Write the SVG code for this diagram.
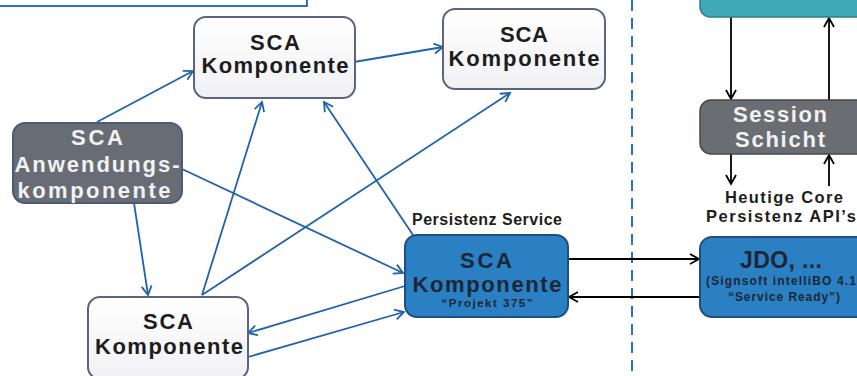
<svg xmlns="http://www.w3.org/2000/svg" width="857" height="376" viewBox="0 0 857 376">
  <style>
    .lbl { font-family: "Liberation Sans", Arial, sans-serif; font-weight: bold; text-anchor: middle; }
    .big { font-size: 22px; }
    .dark { fill: #1d1d1d; }
    .navy { fill: #1b2735; }
    .light { fill: #f2f2f2; }
    .white-box { fill: url(#wg); stroke: #5d6380; stroke-width: 2; }
    .blue-box { fill: #2a80c3; stroke: #1f4f7f; stroke-width: 2; }
    .grey-box { fill: #686d75; stroke: #4d5a78; stroke-width: 2; }
    .blink { fill: none; stroke: #1f63ad; stroke-width: 1.8; marker-end: url(#ab); }
    .klink { fill: none; stroke: #000; stroke-width: 1.8; }
    .karrow { marker-end: url(#ak); }
  </style>
  <defs>
    <linearGradient id="wg" x1="0" y1="0" x2="0" y2="1">
      <stop offset="0" stop-color="#ffffff"/>
      <stop offset="1" stop-color="#f1f1f4"/>
    </linearGradient>
    <marker id="ab" markerUnits="userSpaceOnUse" viewBox="-11 -7 13 14" markerWidth="13" markerHeight="14" refX="0" refY="0" orient="auto">
      <path d="M-9,-5 L0,0 L-9,5" fill="none" stroke="#1f63ad" stroke-width="1.8"/>
    </marker>
    <marker id="ak" markerUnits="userSpaceOnUse" viewBox="-11 -7 13 14" markerWidth="13" markerHeight="14" refX="0" refY="0" orient="auto">
      <path d="M-9,-5 L0,0 L-9,5" fill="none" stroke="#000" stroke-width="1.8"/>
    </marker>
  </defs>

  <rect width="857" height="376" fill="#ffffff"/>

  <!-- frame at top left -->
  <rect x="-5" y="-10" width="312" height="16" fill="none" stroke="#1f63ad" stroke-width="1.8"/>

  <!-- separator -->
  <line x1="632" y1="0" x2="632" y2="376" stroke="#2a6fc0" stroke-width="2" stroke-dasharray="11 7"/>

  <g id="connectors">
    <path class="blink" d="M97,122 L193,71"/>
    <path class="blink" d="M354,62 L443,47"/>
    <path class="blink" d="M182,169 L403,273"/>
    <path class="blink" d="M134,203 L148,295"/>
    <path class="blink" d="M202,295 L262,102"/>
    <path class="blink" d="M202,295 L510,93"/>
    <path class="blink" d="M413,235 L324,102"/>
    <path class="blink" d="M405,286 L248,333"/>
    <path class="blink" d="M248,357 L404,312"/>
    <path class="klink karrow" d="M568,259 L699,259"/>
    <path class="klink karrow" d="M700,297 L569,297"/>
    <path class="klink karrow" d="M731,17 L731,99"/>
    <path class="klink karrow" d="M829,100 L829,18"/>
    <path class="klink karrow" d="M731,154 L731,184"/>
    <path class="klink karrow" d="M829,186 L829,155"/>
  </g>

  <g id="top-layer">
    <rect x="700" y="-20" width="180" height="37" rx="10" fill="#40a9b7" stroke="#2f7f8a" stroke-width="1.5"/>
  </g>

  <g id="komponente-top">
    <rect class="white-box" x="194" y="17" width="161" height="81" rx="12"/>
    <text class="lbl big dark" x="275" y="50" textLength="50" lengthAdjust="spacing">SCA</text>
    <text class="lbl big dark" x="275" y="73" textLength="147" lengthAdjust="spacing">Komponente</text>
  </g>

  <g id="komponente-right">
    <rect class="white-box" x="443" y="9" width="162" height="80" rx="12"/>
    <text class="lbl big dark" x="524" y="42" textLength="48" lengthAdjust="spacing">SCA</text>
    <text class="lbl big dark" x="524" y="66" textLength="151" lengthAdjust="spacing">Komponente</text>
  </g>

  <g id="anwendungskomponente">
    <rect class="grey-box" x="13" y="123" width="169" height="80" rx="12"/>
    <text class="lbl light" x="97" y="145" font-size="22" textLength="52" lengthAdjust="spacing">SCA</text>
    <text class="lbl light" x="97" y="172" font-size="22" textLength="165" lengthAdjust="spacing">Anwendungs-</text>
    <text class="lbl light" x="94" y="198" font-size="22" textLength="153" lengthAdjust="spacing">komponente</text>
  </g>

  <g id="komponente-bottom">
    <rect class="white-box" x="88" y="297" width="160" height="82" rx="12"/>
    <text class="lbl big dark" x="168" y="329" textLength="50" lengthAdjust="spacing">SCA</text>
    <text class="lbl big dark" x="169" y="354" textLength="148" lengthAdjust="spacing">Komponente</text>
  </g>

  <g id="persistenz-service">
    <text class="lbl dark" x="487" y="225" font-size="16" textLength="150" lengthAdjust="spacing">Persistenz Service</text>
    <rect class="blue-box" x="405" y="235" width="163" height="82" rx="12"/>
    <text class="lbl big navy" x="486" y="268" textLength="52" lengthAdjust="spacing">SCA</text>
    <text class="lbl big navy" x="487" y="292" textLength="149" lengthAdjust="spacing">Komponente</text>
    <text class="lbl navy" x="487" y="307" font-size="11.5" textLength="91" lengthAdjust="spacing">“Projekt 375”</text>
  </g>

  <g id="session-schicht">
    <rect x="700" y="100" width="170" height="54" rx="11" fill="#6a6d72" stroke="#45484d" stroke-width="1.5"/>
    <text class="lbl light" x="780" y="122" font-size="22" textLength="94" lengthAdjust="spacing">Session</text>
    <text class="lbl light" x="780" y="147" font-size="22" textLength="90" lengthAdjust="spacing">Schicht</text>
  </g>

  <g id="core-api">
    <text class="lbl dark" x="784" y="203" font-size="16.5" textLength="118" lengthAdjust="spacing">Heutige Core</text>
    <text class="lbl dark" x="781" y="222" font-size="16.5" textLength="150" lengthAdjust="spacing">Persistenz API’s</text>
  </g>

  <g id="jdo">
    <rect class="blue-box" x="700" y="237" width="180" height="80" rx="12"/>
    <text class="lbl navy" x="781" y="268" font-size="23" textLength="82" lengthAdjust="spacing">JDO, ...</text>
    <text class="lbl navy" x="781" y="285" font-size="12" textLength="150" lengthAdjust="spacing">(Signsoft intelliBO 4.1</text>
    <text class="lbl navy" x="784" y="301" font-size="12" textLength="112" lengthAdjust="spacing">“Service Ready”)</text>
  </g>
</svg>
